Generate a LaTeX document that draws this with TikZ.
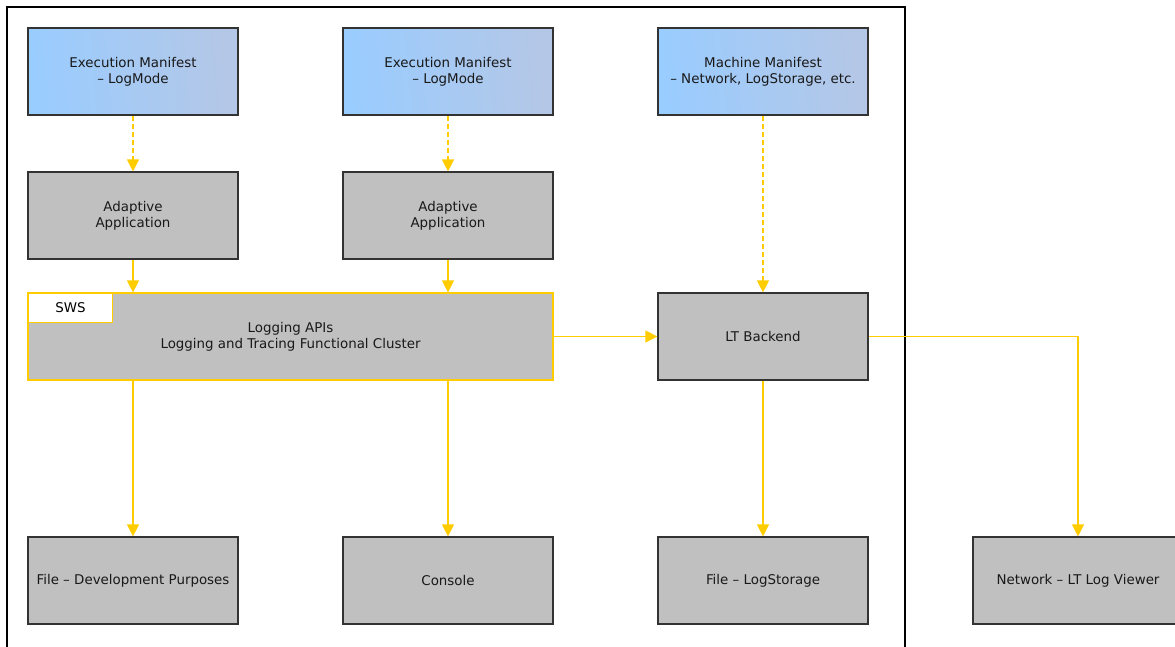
\documentclass[tikz,border=0pt]{standalone}
\usepackage{fontspec}
\setmainfont{DejaVu Sans}
\usetikzlibrary{arrows.meta,positioning}
\definecolor{boxgray}{HTML}{C0C0C0}
\definecolor{gold}{HTML}{FFCC00}
\definecolor{edge}{HTML}{333333}
\definecolor{blueL}{HTML}{99CCFF}
\definecolor{blueR}{HTML}{B5C7E6}
\tikzset{
  box/.style={draw=edge, line width=1.2pt, fill=boxgray, minimum width=210pt, minimum height=87pt,
    inner sep=0pt, align=center, font=\fontsize{13.4}{16}\selectfont, text=black!90},
  manifest/.style={box, left color=blueL, right color=blueR, shading angle=95},
  flow/.style={draw=gold, line width=1.3pt, -{Triangle[width=12pt,length=12pt]}},
  dflow/.style={flow, dash pattern=on 5pt off 3pt},
}
\begin{document}
\begin{tikzpicture}[x=1pt,y=-1pt]
\useasboundingbox (0,0) rectangle (1175,646);
\draw[black, line width=1.2pt] (7,660) -- (7,7) -- (905,7) -- (905,660);
% row 1
\node[manifest] (em1) at (133,71.5) {Execution Manifest\\ – LogMode};
\node[manifest] (em2) at (448,71.5) {Execution Manifest\\ – LogMode};
\node[manifest] (mm) at (763,71.5) {Machine Manifest\\ – Network, LogStorage, etc.};
% row 2
\node[box] (app1) at (133,215.5) {Adaptive\\Application};
\node[box] (app2) at (448,215.5) {Adaptive\\Application};
% row 3
\node[box, draw=gold, minimum width=525pt] (lt) at (290.5,336.5) {Logging APIs\\Logging and Tracing Functional Cluster};
\node[draw=gold, line width=1.2pt, fill=white, minimum width=84pt, minimum height=29pt, inner sep=0pt,
  font=\fontsize{13.4}{16}\selectfont, anchor=north west] (sws) at (28,293) {SWS};
\node[box] (backend) at (763,336.5) {LT Backend};
% row 4
\node[box] (file1) at (133,580.5) {File – Development Purposes};
\node[box] (console) at (448,580.5) {Console};
\node[box] (file2) at (763,580.5) {File – LogStorage};
\node[box] (net) at (1078,580.5) {Network – LT Log Viewer};
% connectors
\draw[dflow] (em1) -- (app1);
\draw[dflow] (em2) -- (app2);
\draw[dflow] (mm) -- (backend);
\draw[flow] (app1) -- (app1 |- lt.north);
\draw[flow] (app2) -- (app2 |- lt.north);
\draw[flow] (lt) -- (backend);
\draw[flow] (file1 |- lt.south) -- (file1);
\draw[flow] (console |- lt.south) -- (console);
\draw[flow] (backend) -- (file2);
\draw[flow] (backend.east) -| (net.north);
\end{tikzpicture}
\end{document}
